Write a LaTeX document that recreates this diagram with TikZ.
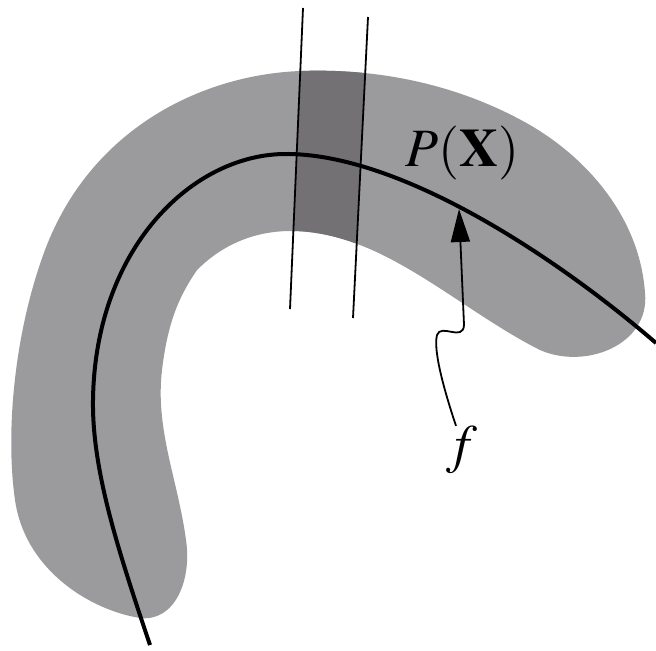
\documentclass[tikz,border=0pt]{standalone}
\usepackage{amsmath,mathptmx}
\usetikzlibrary{arrows.meta}
\definecolor{bandgray}{HTML}{9B9A9C}
\definecolor{slicegray}{HTML}{737174}
\newcommand{\bandoutline}{(197,270) .. controls (235,232) and (290,218) .. (360,245)
  .. controls (420,268) and (480,320) .. (540,350)
  .. controls (585,370) and (650,345) .. (645,293)
  .. controls (640,220) and (590,160) .. (530,125)
  .. controls (460,85) and (380,68) .. (300,71)
  .. controls (200,75) and (90,130) .. (45,250)
  .. controls (15,330) and (5,430) .. (15,500)
  .. controls (25,570) and (90,610) .. (140,618)
  .. controls (175,622) and (192,580) .. (186,540)
  .. controls (178,480) and (155,430) .. (162,370)
  .. controls (168,320) and (180,295) .. (197,270) -- cycle}

\begin{document}
\begin{tikzpicture}[x=0.5pt,y=-0.5pt,every node/.style={font=\fontsize{27}{32}\selectfont,inner sep=0pt}]
\useasboundingbox (0,0) rectangle (656,650);
\fill[bandgray] \bandoutline;
\coordinate (a1) at (303,8); \coordinate (a2) at (290,309);
\coordinate (b1) at (368,17); \coordinate (b2) at (353,318);
\begin{scope}
\clip \bandoutline;
\fill[slicegray] (a1)--(b1)--(b2)--(a2)--cycle;
\end{scope}
\draw[line width=2pt] (150,645) .. controls (118,550) and (92,470) .. (93,400)
  .. controls (95,250) and (190,156) .. (283,154)
  .. controls (400,152) and (560,260) .. (656,343);
\draw[line width=0.9pt] (a1)--(a2) (b1)--(b2);
\node (px) at (462,153) {$P(\mathbf{X})$};
\node (f) at (462,450) {$f$};
\coordinate (tip) at (459,209);
\draw[-{Triangle[length=16.5pt,width=9.5pt]},line width=0.9pt] ([xshift=-3pt]f.north) .. controls (444,390) and (433,350) .. (437,335) .. controls (441,323) and (463,342) .. (464,325) -- (tip);
\end{tikzpicture}
\end{document}
